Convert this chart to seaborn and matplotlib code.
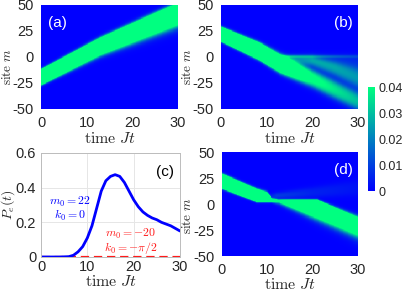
import numpy as np
import pandas as pd
import matplotlib
matplotlib.use("Agg")
import matplotlib.pyplot as plt
import seaborn as sns
from matplotlib.colors import LinearSegmentedColormap

# ---------------- data ----------------
# panel (c): excitation probability
t_c = [0, 2, 4, 6, 7, 8, 9, 10, 11, 12, 13, 14, 15, 16, 17, 18, 19, 20,
       21, 22, 23, 24, 25, 26, 27, 28, 29, 30]
pe_blue = [0, 0, 0, 0.002, 0.01, 0.03, 0.06, 0.11, 0.18, 0.28, 0.38, 0.44,
           0.465, 0.475, 0.465, 0.43, 0.38, 0.33, 0.29, 0.26, 0.24, 0.225,
           0.215, 0.20, 0.19, 0.18, 0.165, 0.15]
t_red = [0, 30]
pe_red = [0, 0]

# heat maps: key points of wave-packet bands (time, lower edge, upper edge, amplitude)
a_t = [0, 13, 30]
a_lo = [-27, 2, 31]
a_hi = [-12, 18.5, 52]
a_amp = [0.08, 0.08, 0.08]
a_slo = [0.7, 1.5, 2.6]
a_shi = [0.7, 1.0, 1.3]

b1_t = [0, 8.5, 13, 20, 30]
b1_lo = [15, -3, -15, -28, -50]
b1_hi = [29, 13.5, 2, -13, -35]
b1_amp = [0.08, 0.08, 0.075, 0.045, 0.032]
b1_s = [0.7, 0.9, 1.3, 1.8, 2.3]

b2_t = [12, 16, 20, 25, 30]
b2_lo = [-1, -5, -8, -17, -28]
b2_hi = [1.5, 1, 0, -6, -13]
b2_amp = [0, 0.018, 0.026, 0.028, 0.026]
b2_s = [1.0, 1.2, 1.5, 2.0, 2.5]

b3_t = [13, 20, 30]
b3_lo = [-3, -4, -14]
b3_hi = [1, 1, 1]
b3_amp = [0, 0.007, 0.007]
b3_s = [1.0, 1.5, 2.0]

b4_t = [11, 14, 30]
b4_lo = [-0.5, -0.5, -0.5]
b4_hi = [1.5, 1.5, 1.5]
b4_amp = [0, 0.022, 0.009]
b4_s = [0.5, 0.5, 0.5]

d1_t = [0, 7.7, 10, 11, 12.5, 21, 30]
d1_lo = [15, 2, 2, 2, 2, -13.5, -30]
d1_hi = [29, 14.4, 11, 5, 4, 4, -13]
d1_amp = [0.08, 0.08, 0.08, 0.08, 0.08, 0.08, 0.08]
d1_slo = [0.7, 0.5, 0.5, 0.5, 1.3, 2.2, 2.8]
d1_shi = [0.7, 0.7, 0.8, 0.6, 0.5, 0.5, 1.3]

d2_t = [9, 12, 20, 30]
d2_lo = [6, 6, 7, 9]
d2_hi = [8, 10, 15, 22]
d2_amp = [0, 0.012, 0.006, 0.003]
d2_s = [1.0, 1.0, 1.5, 2.0]

time_ticks = [0, 10, 20, 30]
site_ticks = [50, 25, 0, -25, -50]
site_labels = ["50", "25", "0", "-25", "-50"]
pe_ticks = [0, 0.2, 0.4, 0.6]
pe_labels = ["0", "0.2", "0.4", "0.6"]
cbar_ticks = [0, 0.01, 0.02, 0.03, 0.04]
cbar_labels = ["0", "0.01", "0.02", "0.03", "0.04"]

# ---------------- build fields ----------------
NT, NM = 300, 200
T = (np.arange(NT) + 0.5) * 30 / NT
M = 50 - (np.arange(NM) + 0.5) * 100 / NM
TT, MM = np.meshgrid(T, M)


def sig(x):
    return 1.0 / (1.0 + np.exp(-x))


def band(tp, lo, hi, amp, slo, shi=None):
    if shi is None:
        shi = slo
    L = np.interp(TT, tp, lo)
    H = np.interp(TT, tp, hi)
    A = np.interp(TT, tp, amp, left=0, right=0)
    SL = np.interp(TT, tp, slo)
    SH = np.interp(TT, tp, shi)
    return A * sig((MM - L) / SL) * sig((H - MM) / SH)


field_a = band(a_t, a_lo, a_hi, a_amp, a_slo, a_shi)
field_b = (band(b1_t, b1_lo, b1_hi, b1_amp, b1_s) + band(b2_t, b2_lo, b2_hi, b2_amp, b2_s)
           + band(b3_t, b3_lo, b3_hi, b3_amp, b3_s) + band(b4_t, b4_lo, b4_hi, b4_amp, b4_s))
field_d = band(d1_t, d1_lo, d1_hi, d1_amp, d1_slo, d1_shi) + band(d2_t, d2_lo, d2_hi, d2_amp, d2_s)

# ---------------- figure ----------------
sns.set_style("white")
plt.rcParams["font.family"] = ["Liberation Sans", "DejaVu Sans"]
plt.rcParams["mathtext.fontset"] = "cm"

cmap = LinearSegmentedColormap.from_list("bg", [(0.0, 0.0, 1.0), (0.0, 1.0, 0.5)])

W, H = 403, 292
fig = plt.figure(figsize=(W / 100, H / 100), dpi=100)


def rect(l, t, r, b):
    return [l / W, 1 - b / H, (r - l) / W, (b - t) / H]


ax_a = fig.add_axes(rect(41, 5, 178, 109))
ax_b = fig.add_axes(rect(221, 5, 358, 109))
ax_c = fig.add_axes(rect(41, 153, 180, 257))
ax_d = fig.add_axes(rect(222, 152, 358, 256))
cax = fig.add_axes(rect(368, 87, 375, 191))

TICK_FS = 10.5
XLAB_FS = 11.5
YLAB_FS = 9.5
PANEL_FS = 11
xlab = r"$\mathrm{time}\ Jt$"
ylab = r"$\mathrm{site}\ m$"

specs = [(ax_a, field_a, "(a)", 0.05, "left", (14.5 - 41) / 137, 0.41, -0.215),
         (ax_b, field_b, "(b)", 0.963, "right", (194 - 221) / 137, 0.41, -0.215),
         (ax_d, field_d, "(d)", 0.963, "right", (194 - 222) / 136, 0.39, -0.205)]
for ax, field, lab, lx, ha, ylx, yly, xly in specs:
    sns.heatmap(pd.DataFrame(field), ax=ax, cmap=cmap, vmin=0, vmax=0.04,
                xticklabels=False, yticklabels=False,
                cbar=(ax is ax_b), cbar_ax=(cax if ax is ax_b else None),
                rasterized=True)
    ax.set_xticks([t / 30 * NT for t in time_ticks])
    ax.set_xticklabels([str(t) for t in time_ticks], rotation=0)
    ax.set_yticks([(50 - m) / 100 * NM for m in site_ticks])
    ax.set_yticklabels(site_labels, rotation=0)
    ax.tick_params(axis="x", length=0, pad=5.0, labelsize=TICK_FS)
    ax.tick_params(axis="y", length=0, pad=5.5, labelsize=TICK_FS)
    ax.set_xlabel(xlab, fontsize=XLAB_FS)
    ax.set_ylabel(ylab, fontsize=YLAB_FS)
    ax.yaxis.set_label_coords(ylx, yly)
    ax.xaxis.set_label_coords(0.5, xly)
    ax.text(lx, 0.83, lab, transform=ax.transAxes, color="white",
            fontsize=PANEL_FS, ha=ha, va="center")

cb = ax_b.collections[0].colorbar
cb.set_ticks(cbar_ticks)
cb.set_ticklabels(cbar_labels)
cb.ax.tick_params(length=0, pad=2.5, labelsize=9)
cb.outline.set_visible(False)

# panel (c)
red = (1.0, 0.1, 0.1)
sns.lineplot(x=t_red, y=pe_red, ax=ax_c, color=red, lw=2.3, linestyle=(0, (2.6, 1.5)))
sns.lineplot(x=t_c, y=pe_blue, ax=ax_c, color=(0.0, 0.0, 1.0), lw=2)
ax_c.set_xlim(0, 30)
ax_c.set_ylim(0, 0.6)
ax_c.set_xticks(time_ticks)
ax_c.set_xticklabels([str(t) for t in time_ticks])
ax_c.set_yticks(pe_ticks)
ax_c.set_yticklabels(pe_labels)
ax_c.grid(True, color="#e6e6e6", lw=0.7)
ax_c.tick_params(axis="x", length=0, pad=2.5, labelsize=TICK_FS)
ax_c.tick_params(axis="y", length=0, pad=3.5, labelsize=TICK_FS)
for s in ax_c.spines.values():
    s.set_visible(True)
    s.set_color("#bcbcbc")
    s.set_linewidth(0.7)
ax_c.set_xlabel(xlab, fontsize=XLAB_FS)
ax_c.set_ylabel(r"$P_e(t)$", fontsize=YLAB_FS + 0.5)
ax_c.yaxis.set_label_coords((16.5 - 41) / 139, 0.5)
ax_c.xaxis.set_label_coords(0.5, -0.165)
ax_c.text(0.957, 0.817, "(c)", transform=ax_c.transAxes, color="black",
          fontsize=PANEL_FS, ha="right", va="center")
ANN_FS = 8.5
ax_c.text(6.3, 0.32, r"$m_0=22$", color="blue", fontsize=ANN_FS, ha="center", va="center")
ax_c.text(6.3, 0.237, r"$k_0=0$", color="blue", fontsize=ANN_FS, ha="center", va="center")
ax_c.text(19.3, 0.13, r"$m_0=-20$", color=red, fontsize=ANN_FS, ha="center", va="center")
ax_c.text(19.3, 0.052, r"$k_0=-\pi/2$", color=red, fontsize=ANN_FS, ha="center", va="center")

fig.savefig("out.png", dpi=100)
